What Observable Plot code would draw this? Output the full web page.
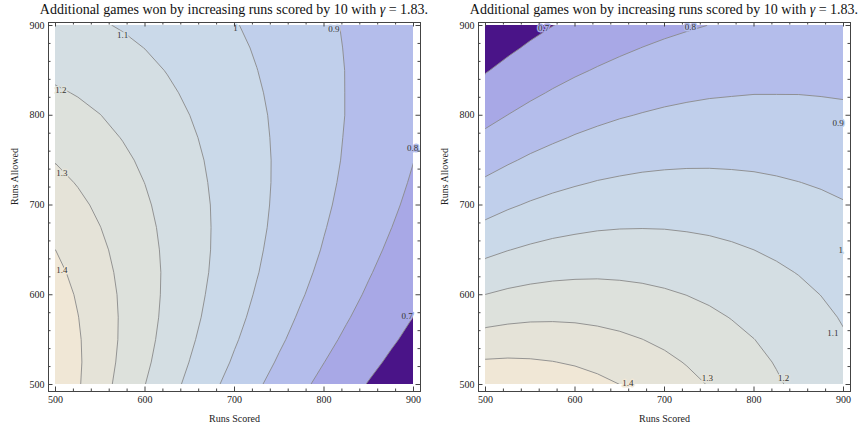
<!DOCTYPE html>
<html><head><meta charset="utf-8">
<script src="https://cdn.jsdelivr.net/npm/d3@7"></script>
<script src="https://cdn.jsdelivr.net/npm/@observablehq/plot@0.6"></script>
<style>
body{margin:0;background:#fff;}
#wrap{position:relative;width:863px;height:429px;overflow:hidden;}
#wrap svg{position:absolute;top:0;overflow:visible;}
</style></head><body><div id="wrap"></div>
<script>
// grid samples (runs scored / runs allowed), step 25 from 500 to 900
const runsGrid = [500, 525, 550, 575, 600, 625, 650, 675, 700, 725, 750, 775, 800, 825, 850, 875, 900];
const levels = [0.7, 0.8, 0.9, 1, 1.1, 1.2, 1.3, 1.4];
const bandColors = ["#4a1488", "#a8a8e6", "#b4bdeb", "#c0cfeb", "#cad9e9", "#d4dee3", "#dde1dc", "#e5e3d8", "#f0e7d6"];

// rows: runs allowed 500 -> 900 ; columns: runs scored 500 -> 900
const leftValues = [
  [1.482, 1.409, 1.337, 1.268, 1.201, 1.138, 1.077, 1.019, 0.964, 0.913, 0.864, 0.818, 0.774, 0.733, 0.695, 0.659, 0.625],
  [1.479, 1.412, 1.345, 1.280, 1.217, 1.156, 1.098, 1.042, 0.989, 0.938, 0.890, 0.844, 0.801, 0.761, 0.722, 0.686, 0.652],
  [1.471, 1.409, 1.348, 1.287, 1.227, 1.170, 1.114, 1.060, 1.009, 0.960, 0.913, 0.868, 0.825, 0.785, 0.747, 0.711, 0.677],
  [1.458, 1.402, 1.345, 1.289, 1.233, 1.179, 1.126, 1.075, 1.025, 0.978, 0.932, 0.888, 0.847, 0.807, 0.769, 0.733, 0.699],
  [1.442, 1.391, 1.339, 1.287, 1.235, 1.184, 1.134, 1.085, 1.038, 0.992, 0.948, 0.906, 0.865, 0.826, 0.789, 0.754, 0.720],
  [1.422, 1.376, 1.329, 1.281, 1.234, 1.186, 1.139, 1.093, 1.047, 1.004, 0.961, 0.920, 0.881, 0.843, 0.806, 0.771, 0.738],
  [1.400, 1.359, 1.316, 1.273, 1.229, 1.184, 1.140, 1.097, 1.054, 1.012, 0.971, 0.932, 0.894, 0.857, 0.821, 0.787, 0.755],
  [1.376, 1.340, 1.301, 1.262, 1.221, 1.180, 1.139, 1.098, 1.058, 1.018, 0.979, 0.941, 0.904, 0.869, 0.834, 0.801, 0.769],
  [1.350, 1.318, 1.284, 1.248, 1.211, 1.173, 1.135, 1.097, 1.059, 1.021, 0.984, 0.948, 0.913, 0.878, 0.845, 0.813, 0.781],
  [1.323, 1.295, 1.265, 1.232, 1.199, 1.164, 1.129, 1.093, 1.058, 1.022, 0.987, 0.953, 0.919, 0.886, 0.854, 0.822, 0.792],
  [1.296, 1.271, 1.244, 1.216, 1.185, 1.153, 1.121, 1.088, 1.055, 1.021, 0.988, 0.955, 0.923, 0.892, 0.860, 0.830, 0.801],
  [1.267, 1.246, 1.223, 1.197, 1.170, 1.141, 1.111, 1.081, 1.050, 1.018, 0.987, 0.956, 0.926, 0.895, 0.866, 0.837, 0.808],
  [1.239, 1.221, 1.201, 1.178, 1.153, 1.127, 1.100, 1.072, 1.043, 1.014, 0.985, 0.956, 0.926, 0.898, 0.869, 0.841, 0.814],
  [1.210, 1.195, 1.178, 1.158, 1.136, 1.112, 1.088, 1.062, 1.035, 1.008, 0.981, 0.953, 0.926, 0.898, 0.871, 0.845, 0.818],
  [1.181, 1.169, 1.154, 1.137, 1.118, 1.097, 1.074, 1.050, 1.026, 1.001, 0.975, 0.950, 0.924, 0.898, 0.872, 0.846, 0.821],
  [1.153, 1.143, 1.131, 1.116, 1.099, 1.080, 1.060, 1.038, 1.016, 0.993, 0.969, 0.944, 0.920, 0.896, 0.871, 0.847, 0.823],
  [1.124, 1.117, 1.107, 1.094, 1.080, 1.063, 1.045, 1.025, 1.005, 0.983, 0.961, 0.939, 0.916, 0.893, 0.870, 0.846, 0.824]
];
const rightValues = [
  [1.482, 1.479, 1.471, 1.458, 1.442, 1.422, 1.400, 1.376, 1.350, 1.323, 1.296, 1.267, 1.239, 1.210, 1.181, 1.153, 1.124],
  [1.409, 1.412, 1.409, 1.402, 1.391, 1.376, 1.359, 1.340, 1.318, 1.295, 1.271, 1.246, 1.221, 1.195, 1.169, 1.143, 1.117],
  [1.337, 1.345, 1.348, 1.345, 1.339, 1.329, 1.316, 1.301, 1.284, 1.265, 1.244, 1.223, 1.201, 1.178, 1.154, 1.131, 1.107],
  [1.268, 1.280, 1.287, 1.289, 1.287, 1.281, 1.273, 1.262, 1.248, 1.232, 1.216, 1.197, 1.178, 1.158, 1.137, 1.116, 1.094],
  [1.201, 1.217, 1.227, 1.233, 1.235, 1.234, 1.229, 1.221, 1.211, 1.199, 1.185, 1.170, 1.153, 1.136, 1.118, 1.099, 1.080],
  [1.138, 1.156, 1.170, 1.179, 1.184, 1.186, 1.184, 1.180, 1.173, 1.164, 1.153, 1.141, 1.127, 1.112, 1.097, 1.080, 1.063],
  [1.077, 1.098, 1.114, 1.126, 1.134, 1.139, 1.140, 1.139, 1.135, 1.129, 1.121, 1.111, 1.100, 1.088, 1.074, 1.060, 1.045],
  [1.019, 1.042, 1.060, 1.075, 1.085, 1.093, 1.097, 1.098, 1.097, 1.093, 1.088, 1.081, 1.072, 1.062, 1.050, 1.038, 1.025],
  [0.964, 0.989, 1.009, 1.025, 1.038, 1.047, 1.054, 1.058, 1.059, 1.058, 1.055, 1.050, 1.043, 1.035, 1.026, 1.016, 1.005],
  [0.913, 0.938, 0.960, 0.978, 0.992, 1.004, 1.012, 1.018, 1.021, 1.022, 1.021, 1.018, 1.014, 1.008, 1.001, 0.993, 0.983],
  [0.864, 0.890, 0.913, 0.932, 0.948, 0.961, 0.971, 0.979, 0.984, 0.987, 0.988, 0.987, 0.985, 0.981, 0.975, 0.969, 0.961],
  [0.818, 0.844, 0.868, 0.888, 0.906, 0.920, 0.932, 0.941, 0.948, 0.953, 0.955, 0.956, 0.956, 0.953, 0.950, 0.944, 0.939],
  [0.774, 0.801, 0.825, 0.847, 0.865, 0.881, 0.894, 0.904, 0.913, 0.919, 0.923, 0.926, 0.926, 0.926, 0.924, 0.920, 0.916],
  [0.733, 0.761, 0.785, 0.807, 0.826, 0.843, 0.857, 0.869, 0.878, 0.886, 0.892, 0.895, 0.898, 0.898, 0.898, 0.896, 0.893],
  [0.695, 0.722, 0.747, 0.769, 0.789, 0.806, 0.821, 0.834, 0.845, 0.854, 0.860, 0.866, 0.869, 0.871, 0.872, 0.871, 0.870],
  [0.659, 0.686, 0.711, 0.733, 0.754, 0.771, 0.787, 0.801, 0.813, 0.822, 0.830, 0.837, 0.841, 0.845, 0.846, 0.847, 0.846],
  [0.625, 0.652, 0.677, 0.699, 0.720, 0.738, 0.755, 0.769, 0.781, 0.792, 0.801, 0.808, 0.814, 0.818, 0.821, 0.823, 0.824]
];

const leftLabels = [
  {rs: 575, ra: 889, v: 1.1}, {rs: 701, ra: 897, v: 1}, {rs: 811, ra: 896, v: 0.9},
  {rs: 506, ra: 828, v: 1.2}, {rs: 507, ra: 735, v: 1.3}, {rs: 507, ra: 628, v: 1.4},
  {rs: 899, ra: 763, v: 0.8}, {rs: 893, ra: 576, v: 0.7}
];
const rightLabels = [
  {rs: 565, ra: 897, v: 0.7}, {rs: 729, ra: 898, v: 0.8}, {rs: 894, ra: 791, v: 0.9},
  {rs: 897, ra: 650, v: 1}, {rs: 888, ra: 557, v: 1.1}, {rs: 833, ra: 507, v: 1.2},
  {rs: 748, ra: 507, v: 1.3}, {rs: 659, ra: 501, v: 1.4}
];

const majorTicks = [500, 600, 700, 800, 900];
const minorTicks = [520, 540, 560, 580, 620, 640, 660, 680, 720, 740, 760, 780, 820, 840, 860, 880];
const titleText = "Additional games won by increasing runs scored by 10 with ";
const titleGamma = "γ";
const titleRest = " = 1.83.";
const xLabel = "Runs Scored";
const yLabel = "Runs Allowed";

const serif = "'Liberation Serif','Times New Roman',serif";

function panel(values, labels, leftPx) {
  const W = 431, H = 429, mL = 55, mR = 18, mT = 25, mB = 45;
  const iw = W - mL - mR, ih = H - mT - mB;
  const n = runsGrid.length;
  const half = (runsGrid[1] - runsGrid[0]) / 2;
  const frameColor = "#444";
  const tickMarks = (list, len) => [
    Plot.tickX(list, {x: d => d, insetTop: ih + 7 - len, insetBottom: -7, stroke: frameColor}),
    Plot.tickX(list, {x: d => d, insetTop: -3, insetBottom: ih + 3 - len, stroke: frameColor}),
    Plot.tickY(list, {y: d => d, insetLeft: -7, insetRight: iw + 7 - len, stroke: frameColor}),
    Plot.tickY(list, {y: d => d, insetRight: -7, insetLeft: iw + 7 - len, stroke: frameColor})
  ];
  const svg = Plot.plot({
    width: W, height: H,
    marginLeft: mL, marginRight: mR, marginTop: mT, marginBottom: mB,
    x: {domain: [500, 900], axis: null},
    y: {domain: [500, 900], axis: null},
    color: {type: "threshold", domain: levels, range: bandColors},
    style: {fontFamily: serif, background: "white", overflow: "visible"},
    marks: [
      Plot.contour(values.flat(), {
        width: n, height: n,
        x1: runsGrid[0] - half, x2: runsGrid[n - 1] + half,
        y1: runsGrid[0] - half, y2: runsGrid[n - 1] + half,
        fill: Plot.identity, thresholds: [0.5, ...levels],
        stroke: "#8a8a8a", strokeWidth: 0.9, clip: true
      }),
      Plot.text(labels, {
        x: "rs", y: "ra", text: d => String(d.v), stroke: d => d.v, strokeWidth: 3,
        fill: "#333", fontSize: 9, fontFamily: serif
      }),
      Plot.frame({insetLeft: -7, insetRight: -7, insetBottom: -7, insetTop: -3, stroke: frameColor}),
      ...tickMarks(majorTicks, 4.5),
      ...tickMarks(minorTicks, 2.5),
      Plot.text(majorTicks, {x: d => d, text: d => String(d), frameAnchor: "bottom", dy: 18, fontSize: 10, fill: "#222"}),
      Plot.text(majorTicks, {y: d => d, text: d => String(d), frameAnchor: "left", dx: -11, textAnchor: "end", fontSize: 10, fill: "#222"}),
      Plot.text([xLabel], {text: d => d, frameAnchor: "bottom", dy: 37, fontSize: 10, fill: "#222"}),
      Plot.text([yLabel], {text: d => d, frameAnchor: "left", dx: -41, rotate: -90, fontSize: 10, fill: "#222"})
    ]
  });
  svg.style.left = leftPx + "px";
  const t = d3.select(svg).append("text")
    .attr("x", mL + iw / 2).attr("y", 14.3)
    .attr("text-anchor", "middle")
    .style("font-family", serif).style("font-size", "14px").attr("fill", "#111");
  t.append("tspan").text(titleText);
  t.append("tspan").style("font-style", "italic").text(titleGamma);
  t.append("tspan").text(titleRest);
  return svg;
}

const wrap = document.getElementById("wrap");
wrap.appendChild(panel(leftValues, leftLabels, 0));
wrap.appendChild(panel(rightValues, rightLabels, 430));
</script>
</body></html>
